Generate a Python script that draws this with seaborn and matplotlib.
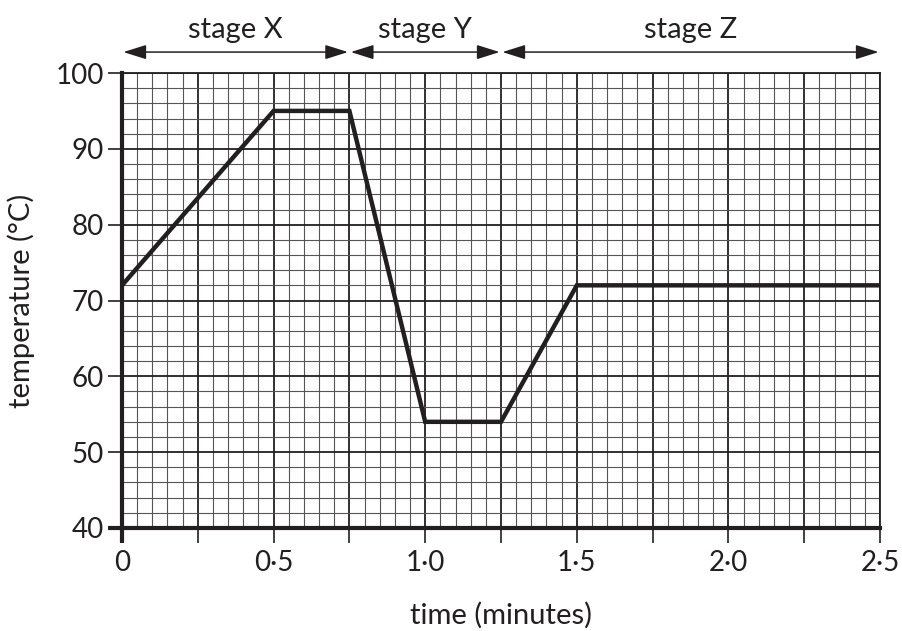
import seaborn as sns
import pandas as pd
import matplotlib
matplotlib.use("Agg")
from matplotlib import pyplot as plt
from matplotlib.ticker import MultipleLocator

# data
time_min = [0.0, 0.5, 0.75, 1.0, 1.25, 1.5, 2.5]
temp_c = [72, 95, 95, 54, 54, 72, 72]

stage_names = ["stage X", "stage Y", "stage Z"]
stage_edges = [0.0, 0.75, 1.25, 2.5]

x_ticks = [0, 0.25, 0.5, 0.75, 1.0, 1.25, 1.5, 1.75, 2.0, 2.25, 2.5]
x_labels = ["0", "", "0·5", "", "1·0", "", "1·5", "", "2·0", "", "2·5"]
y_ticks = [40, 50, 60, 70, 80, 90, 100]

ink = "#231f20"
fs = 20
fs_label = 21

sns.set_style("white")
plt.rcParams["font.family"] = ["Lato", "DejaVu Sans"]
plt.rcParams["font.size"] = fs
plt.rcParams["text.color"] = ink

df = pd.DataFrame({"time": time_min, "temp": temp_c})

fig = plt.figure(figsize=(9.02, 6.31), dpi=100)
ax = fig.add_axes([122 / 902, 1 - 528 / 631, 758 / 902, 455 / 631])

ax.set_xlim(0, 2.5)
ax.set_ylim(40, 100)

# graph paper grid
ax.xaxis.set_minor_locator(MultipleLocator(0.05))
ax.yaxis.set_minor_locator(MultipleLocator(2))
ax.set_xticks(x_ticks)
ax.set_xticklabels(x_labels)
ax.set_yticks(y_ticks)
ax.grid(which="minor", color="#555555", linewidth=0.8)
ax.grid(which="major", color=ink, linewidth=1.3)
ax.set_axisbelow(True)

sns.lineplot(data=df, x="time", y="temp", ax=ax, color=ink, linewidth=3.2,
             solid_joinstyle="miter", zorder=5)

for side in ["top", "right"]:
    ax.spines[side].set_linewidth(1.3)
    ax.spines[side].set_color(ink)
for side in ["left", "bottom"]:
    ax.spines[side].set_linewidth(3)
    ax.spines[side].set_color(ink)
    ax.spines[side].set_zorder(6)

ax.tick_params(which="major", axis="x", direction="out", length=11, width=1.2,
               bottom=True, color=ink, labelsize=fs, labelcolor=ink, pad=5)
ax.tick_params(which="major", axis="y", direction="out", length=10, width=1.2,
               left=True, color=ink, labelsize=fs, labelcolor=ink, pad=3)
ax.tick_params(which="minor", length=0)
ax.xaxis.get_major_ticks()[0].tick1line.set_markeredgewidth(3)
ax.yaxis.get_major_ticks()[0].tick1line.set_markeredgewidth(3)

ax.set_xlabel("time (minutes)", fontsize=fs_label, color=ink)
ax.set_ylabel("temperature (°C)", fontsize=fs_label, color=ink)
ax.xaxis.set_label_coords(0.5, -0.163)
ax.yaxis.set_label_coords(-0.115, 0.5)

# stage arrows above the graph
trans = ax.get_xaxis_transform()
for name, x0, x1 in zip(stage_names, stage_edges[:-1], stage_edges[1:]):
    ax.annotate("", xy=(x1, 1.046), xytext=(x0, 1.046), xycoords=trans,
                textcoords=trans, annotation_clip=False,
                arrowprops=dict(arrowstyle="<|-|>,head_length=0.7,head_width=0.22",
                                color=ink, lw=1.1, shrinkA=1, shrinkB=1))
    ax.text((x0 + x1) / 2, 1.095, name, transform=trans, ha="center",
            va="center", fontsize=fs_label, color=ink)

fig.savefig("out.png", dpi=100)
